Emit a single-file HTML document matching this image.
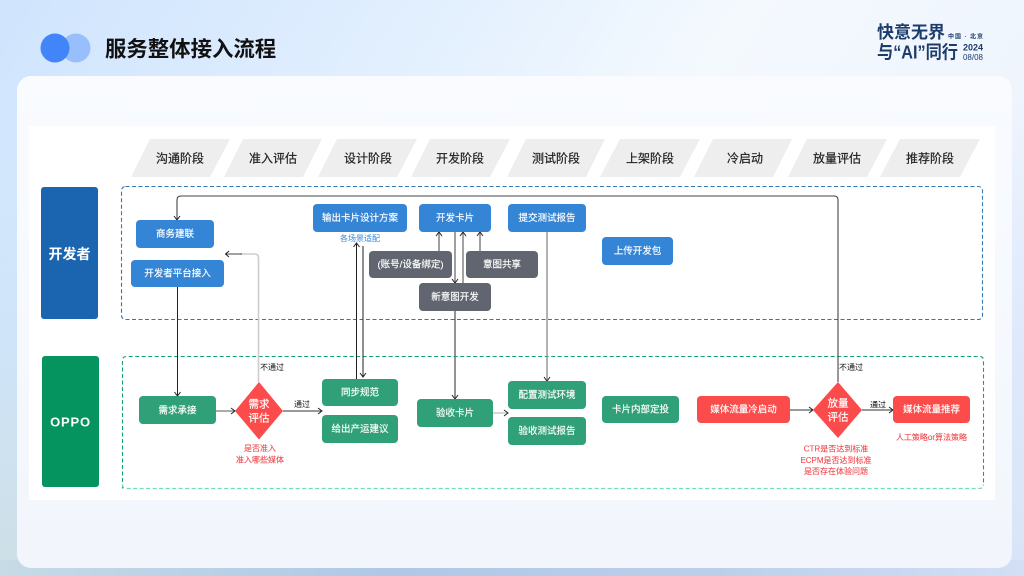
<!DOCTYPE html>
<html lang="zh">
<head>
<meta charset="utf-8">
<title>服务整体接入流程</title>
<style>
html,body{margin:0;padding:0;width:1024px;height:576px;overflow:hidden;background:#e8f2fe}
svg{display:block}
text{font-family:"Liberation Sans","Noto Sans CJK SC",sans-serif}
.h{font-size:12px;fill:#222;stroke:#222;stroke-width:.2;text-anchor:middle;dominant-baseline:central}
.n{font-size:9.500px;fill:#fff;stroke:#fff;stroke-width:.15;text-anchor:middle;dominant-baseline:central}
.d{font-size:10.500px;fill:#fff;stroke:#fff;stroke-width:.15;text-anchor:middle;dominant-baseline:central}
.r{font-size:8px;fill:#f0484c;stroke:#f0484c;stroke-width:.1;text-anchor:middle;dominant-baseline:central}
.k{font-size:8px;fill:#111;text-anchor:middle;dominant-baseline:central}
</style>
</head>
<body>
<svg width="1024" height="576" viewBox="0 0 1024 576" xmlns="http://www.w3.org/2000/svg">
<defs>
<linearGradient id="bg" x1="0" y1="0" x2="1" y2="0.35">
<stop offset="0" stop-color="#cfe4fd"/>
<stop offset="0.4" stop-color="#e3f0fe"/>
<stop offset="0.65" stop-color="#f4f9fe"/>
<stop offset="1" stop-color="#eef4fd"/>
</linearGradient>
<linearGradient id="lft" x1="0" y1="0" x2="0" y2="1">
<stop offset="0" stop-color="#cfe4fb" stop-opacity="0"/>
<stop offset="0.5" stop-color="#cfe4f8"/>
<stop offset="1" stop-color="#cddfe6"/>
</linearGradient>
<linearGradient id="rgt" x1="0" y1="0" x2="0" y2="1">
<stop offset="0" stop-color="#dfe9fb" stop-opacity="0"/>
<stop offset="0.5" stop-color="#dfe9fb"/>
<stop offset="1" stop-color="#d9e4f7"/>
</linearGradient>
<linearGradient id="bot" x1="0" y1="0" x2="1" y2="0">
<stop offset="0" stop-color="#c6dbe6"/>
<stop offset="0.38" stop-color="#afc8e6"/>
<stop offset="0.7" stop-color="#bccfea"/>
<stop offset="1" stop-color="#d2dff5"/>
</linearGradient>
<linearGradient id="card" x1="0" y1="0" x2="0" y2="1">
<stop offset="0" stop-color="#f9fbff"/>
<stop offset="1" stop-color="#f2f6fc"/>
</linearGradient>
<linearGradient id="glow" x1="0" y1="0" x2="1" y2="0">
<stop offset="0" stop-color="#fff" stop-opacity="0.55"/>
<stop offset="0.03" stop-color="#fff" stop-opacity="0"/>
</linearGradient>
</defs>
<rect width="1024" height="576" fill="url(#bg)"/>
<rect x="0" y="100" width="20" height="476" fill="url(#lft)"/>
<rect x="1005" y="100" width="19" height="476" fill="url(#rgt)"/>
<rect x="0" y="560" width="1024" height="16" fill="url(#bot)"/>
<rect x="17" y="76" width="995" height="492" rx="14" fill="url(#card)"/>
<rect x="29" y="126" width="966" height="374" fill="#fff"/>

<!-- Title -->
<circle cx="76" cy="48" r="14.500" fill="#98bffb"/>
<circle cx="55" cy="48" r="14.500" fill="#4285f8"/>
<text x="105" y="49.500" font-size="21.400" font-weight="700" fill="#111" dominant-baseline="central">服务整体接入流程</text>

<!-- Logo -->
<text x="877" y="32.500" font-size="17" font-weight="700" fill="#1d3c6b" dominant-baseline="central">快意无界</text>
<text x="877" y="52.500" font-size="18" font-weight="700" fill="#1d3c6b" dominant-baseline="central" textLength="81" lengthAdjust="spacingAndGlyphs">与“AI”同行</text>
<text x="948" y="37.500" font-size="6" font-weight="700" fill="#1d3c6b" dominant-baseline="central" textLength="35" lengthAdjust="spacing">中国 · 北京</text>
<text x="983" y="47.500" font-size="9" font-weight="700" fill="#1d3c6b" text-anchor="end" dominant-baseline="central">2024</text>
<text x="983" y="57.500" font-size="8" fill="#1d3c6b" text-anchor="end" dominant-baseline="central">08/08</text>

<!-- Stage headers -->
<g fill="#eeeeee">
<polygon points="150,139 230,139 210,177 131,177"/>
<polygon points="243,139 322,139 303,177 224,177"/>
<polygon points="337,139 417,139 397,177 318,177"/>
<polygon points="430,139 510,139 490,177 411,177"/>
<polygon points="526,139 605,139 586,177 507,177"/>
<polygon points="620,139 700,139 680,177 600,177"/>
<polygon points="713,139 792,139 773,177 694,177"/>
<polygon points="807,139 887,139 867,177 788,177"/>
<polygon points="900,139 980,139 960,177 880,177"/>
</g>
<text class="h" x="180" y="158.500">沟通阶段</text>
<text class="h" x="273" y="158.500">准入评估</text>
<text class="h" x="368" y="158.500">设计阶段</text>
<text class="h" x="460" y="158.500">开发阶段</text>
<text class="h" x="556" y="158.500">测试阶段</text>
<text class="h" x="650" y="158.500">上架阶段</text>
<text class="h" x="745" y="158.500">冷启动</text>
<text class="h" x="837" y="158.500">放量评估</text>
<text class="h" x="930" y="158.500">推荐阶段</text>

<!-- Lanes -->
<rect x="41" y="187" width="57" height="132" rx="3" fill="#1a64b0"/>
<text x="69.500" y="254" font-size="14" font-weight="700" fill="#fff" text-anchor="middle" dominant-baseline="central">开发者</text>
<rect x="42" y="356" width="57" height="131" rx="3" fill="#05935f"/>
<text x="70.500" y="422" font-size="13" font-weight="700" fill="#fff" text-anchor="middle" dominant-baseline="central" letter-spacing="0.8">OPPO</text>

<rect x="121.500" y="186.500" width="861" height="133" rx="4" fill="none" stroke="#3177b3" stroke-width="1.100" stroke-dasharray="4 2.500"/>
<path d="M122.500 488.500V360.500q0-4 4-4H979.500q4 0 4 4V484.500" fill="none" stroke="#13a077" stroke-width="1.100" stroke-dasharray="4 2.500"/>
<path d="M122.500 484.500q0 4 4 4H979.500q4 0 4-4" fill="none" stroke="#6fdcbc" stroke-width="1.200" stroke-dasharray="4 2.500"/>

<!-- Connectors -->
<g fill="none">
<path d="M838 382V200q0-4-4-4H181q-4 0-4 4V219" stroke="#444" stroke-width="1.100"/>
<path d="M258.500 382V258q0-4-4-4H240" stroke="#cdcdcd" stroke-width="1.600"/>
<path d="M226 254H242" stroke="#444" stroke-width="1"/>
<path d="M177.500 287V395" stroke="#222" stroke-width="1"/>
<path d="M216 411H234" stroke="#555" stroke-width="1"/>
<path d="M283 411H321" stroke="#333" stroke-width="1"/>
<path d="M356.500 379V244" stroke="#222" stroke-width="1"/>
<path d="M363 246V376" stroke="#222" stroke-width="1"/>
<path d="M455 232V283" stroke="#777" stroke-width="1.400"/>
<path d="M455 311V398" stroke="#666" stroke-width="1.400"/>
<path d="M463 283V232" stroke="#555" stroke-width="1.100"/>
<path d="M439 251V232" stroke="#777" stroke-width="1.400"/>
<path d="M480 251V232" stroke="#777" stroke-width="1.400"/>
<path d="M547 232V380" stroke="#888" stroke-width="1.300"/>
<path d="M493 413H507" stroke="#cdcdcd" stroke-width="1.600"/>
<path d="M790 410H812" stroke="#333" stroke-width="1"/>
<path d="M862 410H892" stroke="#333" stroke-width="1"/>
</g>
<!-- Arrowheads -->
<g fill="none" stroke="#222" stroke-width="1">
<path d="M174 216L177 220L180 216"/>
<path d="M229 251L225.500 254L229 257"/>
<path d="M174.500 392L177.500 396L180.500 392"/>
<path d="M231 408L235 411L231 414"/>
<path d="M318 408L322 411L318 414"/>
<path d="M353.500 247L356.500 243L359.500 247"/>
<path d="M360 373L363 377L366 373"/>
<path d="M452 279L455 283L458 279"/>
<path d="M452 395L455 399L458 395"/>
<path d="M460 236L463 232L466 236"/>
<path d="M436 236L439 232L442 236"/>
<path d="M477 236L480 232L483 236"/>
<path d="M544 377L547 381L550 377"/>
<path d="M504 410L508 413L504 416"/>
<path d="M809 407L813 410L809 413"/>
<path d="M889 407L893 410L889 413"/>
</g>

<!-- Blue nodes -->
<g fill="#3585d6">
<rect x="136" y="220" width="78" height="28" rx="4"/>
<rect x="131" y="260" width="93" height="27" rx="4"/>
<rect x="313" y="204" width="94" height="28" rx="4"/>
<rect x="419" y="204" width="72" height="28" rx="4"/>
<rect x="508" y="204" width="78" height="28" rx="4"/>
<rect x="602" y="237" width="71" height="28" rx="4"/>
</g>
<text class="n" x="175" y="234.500">商务建联</text>
<text class="n" x="177.500" y="274">开发者平台接入</text>
<text class="n" x="360" y="218.500">输出卡片设计方案</text>
<text class="n" x="455" y="218.500">开发卡片</text>
<text class="n" x="547" y="218.500">提交测试报告</text>
<text class="n" x="637.500" y="251.500">上传开发包</text>
<text x="360" y="238.500" font-size="8" fill="#3585d6" text-anchor="middle" dominant-baseline="central">各场景适配</text>

<!-- Gray nodes -->
<g fill="#606570">
<rect x="369" y="251" width="83" height="27" rx="4"/>
<rect x="466" y="251" width="72" height="27" rx="4"/>
<rect x="419" y="283" width="72" height="28" rx="4"/>
</g>
<text class="n" x="410.500" y="265">(账号/设备绑定)</text>
<text class="n" x="502" y="265">意图共享</text>
<text class="n" x="455" y="297.500">新意图开发</text>

<!-- Green nodes -->
<g fill="#30a078">
<rect x="139" y="396" width="77" height="28" rx="4"/>
<rect x="322" y="379" width="76" height="27" rx="4"/>
<rect x="322" y="415" width="76" height="28" rx="4"/>
<rect x="417" y="399" width="76" height="28" rx="4"/>
<rect x="508" y="381" width="78" height="28" rx="4"/>
<rect x="508" y="417" width="78" height="28" rx="4"/>
<rect x="602" y="396" width="77" height="27" rx="4"/>
</g>
<text class="n" x="177.500" y="411">需求承接</text>
<text class="n" x="360" y="393">同步规范</text>
<text class="n" x="360" y="429.500">给出产运建议</text>
<text class="n" x="455" y="413.500">验收卡片</text>
<text class="n" x="547" y="395.500">配置测试环境</text>
<text class="n" x="547" y="431.500">验收测试报告</text>
<text class="n" x="640.500" y="410">卡片内部定投</text>

<!-- Red nodes -->
<g fill="#fb4b4b">
<rect x="697" y="396" width="93" height="27" rx="4"/>
<rect x="893" y="396" width="77" height="27" rx="4"/>
<polygon points="259,382 283,411 259,439.500 235,411"/>
<polygon points="838,382 862,410 838,438 813,410"/>
</g>
<text class="n" x="743.500" y="410">媒体流量冷启动</text>
<text class="n" x="931.500" y="410">媒体流量推荐</text>
<text class="d" x="259" y="404.500">需求</text>
<text class="d" x="259" y="418.500">评估</text>
<text class="d" x="838" y="403.500">放量</text>
<text class="d" x="838" y="417.500">评估</text>

<!-- Labels -->
<text class="k" x="272" y="367.500">不通过</text>
<text class="k" x="302" y="404.500">通过</text>
<text class="k" x="851" y="367.500">不通过</text>
<text class="k" x="878" y="405">通过</text>
<text class="r" x="260" y="448.500">是否准入</text>
<text class="r" x="260" y="460">准入哪些媒体</text>
<text class="r" x="836" y="449">CTR是否达到标准</text>
<text class="r" x="836" y="460.500">ECPM是否达到标准</text>
<text class="r" x="836" y="471.500">是否存在体验问题</text>
<text class="r" x="931.500" y="437.500">人工策略or算法策略</text>
</svg>
</body>
</html>
